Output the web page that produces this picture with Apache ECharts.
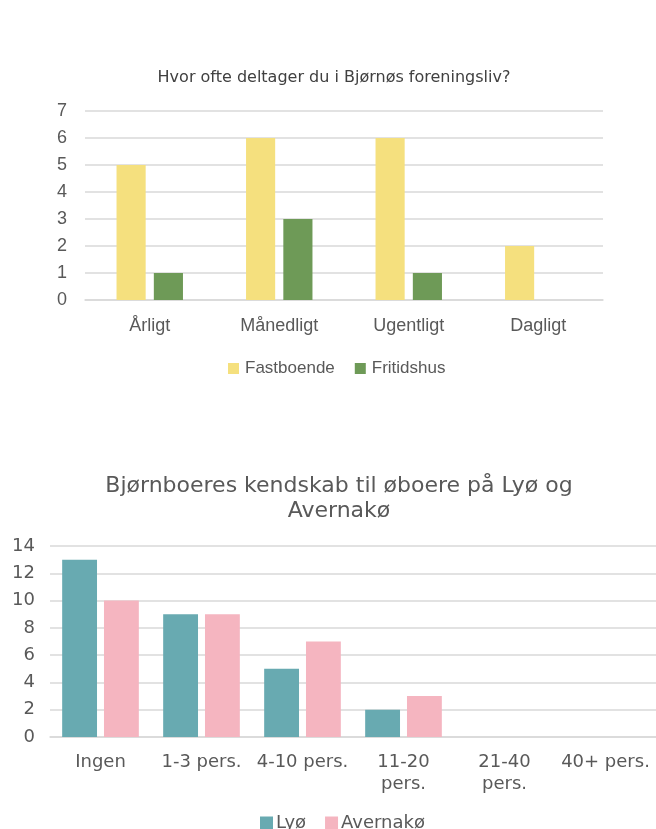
<!DOCTYPE html>
<html>
<head>
<meta charset="utf-8">
<script src="https://cdn.jsdelivr.net/npm/echarts@6/dist/echarts.min.js"></script>
<style>
  html, body { margin: 0; padding: 0; background: #fff; }
  #chart { width: 656px; height: 829px; }
</style>
</head>
<body>
<div id="chart"></div>
<script>
// Upper chart: participation in the island's associations
const freqCategories = ['Årligt', 'Månedligt', 'Ugentligt', 'Dagligt'];
const fastboende = [5, 6, 6, 2];
const fritidshus = [1, 3, 1, 0];
const freqTicks = [0, 1, 2, 3, 4, 5, 6, 7];

// Lower chart: how many people on Lyø and Avernakø the residents know
const knowCategories = ['Ingen', '1-3 pers.', '4-10 pers.', '11-20 pers.', '21-40 pers.', '40+ pers.'];
const lyo = [13, 9, 5, 2, 0, 0];
const avernako = [10, 9, 7, 3, 0, 0];
const knowTicks = [0, 2, 4, 6, 8, 10, 12, 14];

const GRID_LINE = '#d9d9d9';
const LABEL = '#595959';
const FONT_A = '"Liberation Sans", Arial, sans-serif';
const FONT_B = '"DejaVu Sans", Verdana, sans-serif';

const chart = echarts.init(document.getElementById('chart'), null, { renderer: 'canvas' });

function valueAxis(gridIndex, ticks, font, size, margin) {
  return {
    type: 'value', gridIndex,
    min: ticks[0], max: ticks[ticks.length - 1], interval: ticks[1] - ticks[0],
    axisLine: { show: false }, axisTick: { show: false },
    splitLine: { lineStyle: { color: GRID_LINE, width: 1.5 } },
    axisLabel: { color: LABEL, fontFamily: font, fontSize: size, margin }
  };
}

chart.setOption({
  animation: false,
  title: [
    {
      text: 'Hvor ofte deltager du i Bjørnøs foreningsliv?',
      left: 329, top: 65, textAlign: 'center',
      textStyle: { color: '#404040', fontFamily: FONT_B, fontSize: 16, fontWeight: 'normal' }
    },
    {
      text: 'Bjørnboeres kendskab til øboere på Lyø og\nAvernakø',
      left: 334, top: 469, textAlign: 'center',
      textStyle: { color: LABEL, fontFamily: FONT_B, fontSize: 22, fontWeight: 'normal', lineHeight: 25 }
    }
  ],
  legend: [
    {
      data: ['Fastboende', 'Fritidshus'],
      left: 228, top: 360, padding: 0,
      icon: 'rect', itemWidth: 11, itemHeight: 11, itemGap: 20,
      textStyle: { color: LABEL, fontFamily: FONT_A, fontSize: 17, padding: [0, 0, 0, 1] }
    },
    {
      data: ['Lyø', 'Avernakø'],
      left: 260, top: 814, padding: 0,
      icon: 'rect', itemWidth: 13, itemHeight: 13, itemGap: 19,
      textStyle: { color: LABEL, fontFamily: FONT_B, fontSize: 18, padding: [0, 0, 0, -2] }
    }
  ],
  grid: [
    { left: 85, right: 53, top: 111, height: 189 },
    { left: 50, right: 0, top: 546, height: 191 }
  ],
  xAxis: [
    {
      type: 'category', gridIndex: 0, data: freqCategories,
      axisLine: { lineStyle: { color: GRID_LINE, width: 1.5 } }, axisTick: { show: false },
      axisLabel: { color: LABEL, fontFamily: FONT_A, fontSize: 18, margin: 17 }
    },
    {
      type: 'category', gridIndex: 1, data: knowCategories,
      axisLine: { lineStyle: { color: GRID_LINE, width: 1.5 } }, axisTick: { show: false },
      axisLabel: {
        color: LABEL, fontFamily: FONT_B, fontSize: 18, margin: 14, lineHeight: 22,
        interval: 0,
        // longer labels wrap onto two lines
        formatter: v => v.length > 10 ? v.replace(' ', '\n') : v
      }
    }
  ],
  yAxis: [
    valueAxis(0, freqTicks, FONT_A, 18, 18),
    valueAxis(1, knowTicks, FONT_B, 18, 15)
  ],
  series: [
    {
      name: 'Fastboende', type: 'bar', xAxisIndex: 0, yAxisIndex: 0, data: fastboende,
      barWidth: '22.5%', barGap: '28%',
      itemStyle: { color: '#F5E07E' }
    },
    {
      name: 'Fritidshus', type: 'bar', xAxisIndex: 0, yAxisIndex: 0, data: fritidshus,
      barWidth: '22.5%', barGap: '28%',
      itemStyle: { color: '#6E9A57' }
    },
    {
      name: 'Lyø', type: 'bar', xAxisIndex: 1, yAxisIndex: 1, data: lyo,
      barWidth: '34.5%', barGap: '20%',
      itemStyle: { color: '#68AAB1' }
    },
    {
      name: 'Avernakø', type: 'bar', xAxisIndex: 1, yAxisIndex: 1, data: avernako,
      barWidth: '34.5%', barGap: '20%',
      itemStyle: { color: '#F5B5C0' }
    }
  ]
});
</script>
</body>
</html>
